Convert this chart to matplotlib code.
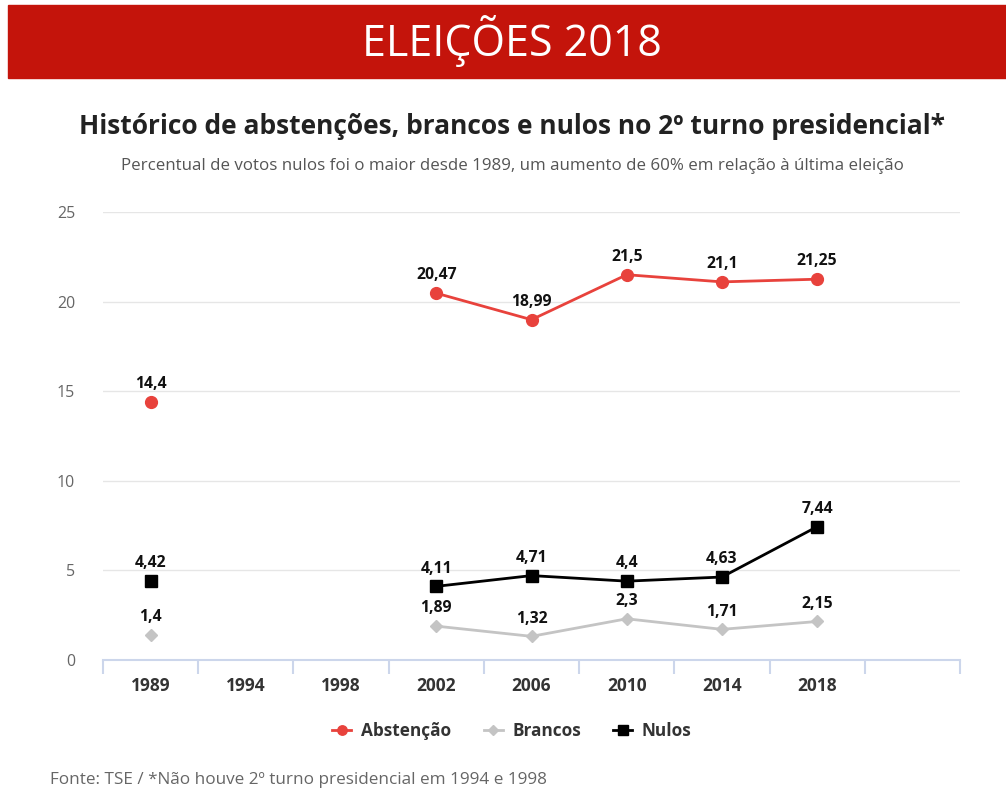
import numpy as np
import matplotlib
matplotlib.use("Agg")
import matplotlib.pyplot as plt
from matplotlib.patches import Rectangle

plt.rcParams['font.family'] = ['Open Sans', 'DejaVu Sans']

# dados do 2º turno (1994 e 1998 sem 2º turno)
anos = ['1989', '1994', '1998', '2002', '2006', '2010', '2014', '2018', '']
abstencao = [14.4, np.nan, np.nan, 20.47, 18.99, 21.5, 21.1, 21.25]
brancos = [1.4, np.nan, np.nan, 1.89, 1.32, 2.3, 1.71, 2.15]
nulos = [4.42, np.nan, np.nan, 4.11, 4.71, 4.4, 4.63, 7.44]

fig = plt.figure(figsize=(10.06, 7.91), dpi=100)
W, H = 1006, 791

# faixa vermelha do topo
fig.patches.append(Rectangle((8 / W, 1 - 78 / H), 1 - 8 / W, 73 / H,
                             transform=fig.transFigure, color='#c4140b', zorder=0))
fig.text(512 / W, 1 - 41 / H, 'ELEIÇÕES 2018', color='white', fontsize=31,
         ha='center', va='center')

fig.text(512 / W, 1 - 126 / H,
         'Histórico de abstenções, brancos e nulos no 2º turno presidencial*',
         fontsize=19, fontweight='bold', color='#222222', ha='center', va='center')
fig.text(512 / W, 1 - 166 / H,
         'Percentual de votos nulos foi o maior desde 1989, um aumento de 60% em relação à última eleição',
         fontsize=12.2, color='#555555', ha='center', va='center')

ax = fig.add_axes([103 / W, 1 - 660 / H, (960 - 103) / W, (660 - 212) / H])
x = np.arange(len(abstencao))

ax.plot(x, abstencao, color='#e8423c', lw=2, marker='o', ms=8.5, label='Abstenção', zorder=4)
ax.plot(x, brancos, color='#c4c4c4', lw=2, marker='D', ms=6, label='Brancos', zorder=3)
ax.plot(x, nulos, color='black', lw=2, marker='s', ms=8.5, label='Nulos', zorder=5)

def rotulo(v):
    return f'{v:g}'.replace('.', ',')

for serie in (abstencao, brancos, nulos):
    for xi, v in zip(x, serie):
        if not np.isnan(v):
            ax.annotate(rotulo(v), (xi, v), xytext=(0, 7), textcoords='offset points',
                        ha='center', va='bottom', fontsize=11.3, fontweight='bold',
                        color='#111111', zorder=6)

ax.set_xlim(-0.5, 8.5)
ax.set_ylim(0, 25)
ax.set_yticks([0, 5, 10, 15, 20, 25])
ax.yaxis.grid(True, color='#e6e6e6', lw=1)
ax.set_axisbelow(True)
for s in ('top', 'right', 'left'):
    ax.spines[s].set_visible(False)
ax.spines['bottom'].set_color('#ccd6eb')
ax.spines['bottom'].set_linewidth(1.5)

ax.set_xticks(x.tolist() + [8], labels=anos, fontsize=12.5, fontweight='bold', color='#333333')
ax.tick_params(axis='x', length=0, pad=12)
ax.set_xticks(np.arange(-0.5, 9, 1), minor=True)
ax.tick_params(axis='x', which='minor', length=10, width=1.5, color='#ccd6eb')
ax.tick_params(axis='y', length=0, pad=20, labelsize=11.5, labelcolor='#666666')

leg = fig.legend(loc='center', bbox_to_anchor=(512 / W, 1 - 731 / H), ncol=3, frameon=False,
                 prop={'weight': 'bold', 'size': 12.4}, handlelength=1.1, columnspacing=1.9,
                 handletextpad=0.55, markerscale=0.8)
for t in leg.get_texts():
    t.set_color('#333333')

fig.text(50 / W, 1 - 780 / H, 'Fonte: TSE / *Não houve 2º turno presidencial em 1994 e 1998',
         fontsize=12.3, color='#666666', ha='left', va='center')

fig.savefig('out.png', dpi=100, facecolor='white')
